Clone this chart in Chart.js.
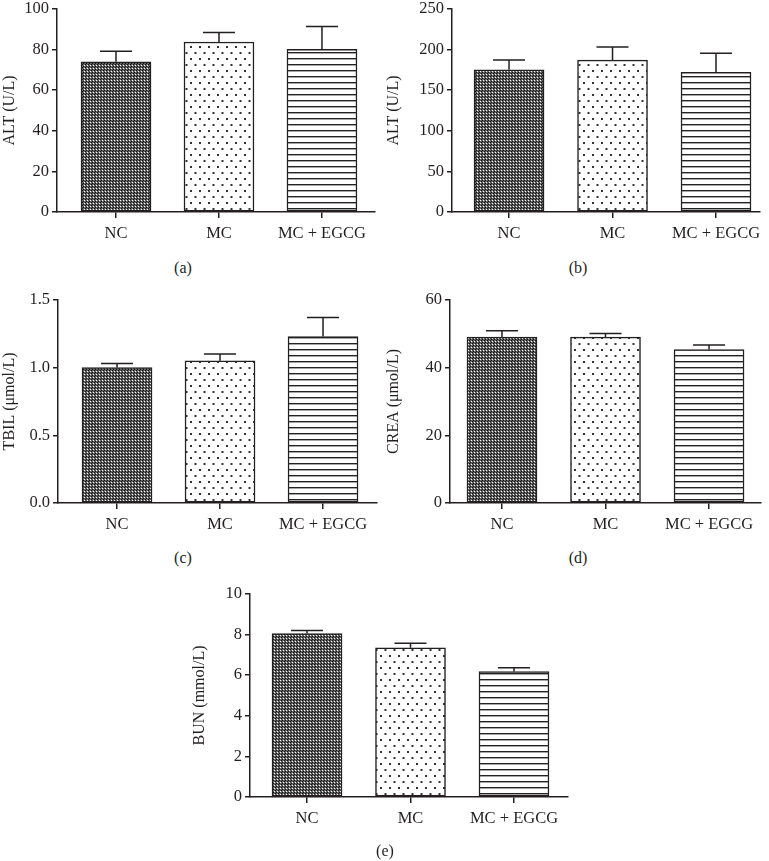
<!DOCTYPE html>
<html>
<head>
<meta charset="utf-8">
<script src="https://cdn.jsdelivr.net/npm/chart.js@4.4.0/dist/chart.umd.min.js"></script>
<style>
  body { margin: 0; background: #fff; width: 769px; height: 861px; position: relative; overflow: hidden;
         font-family: "Liberation Serif", serif; color: #231f20; }
  canvas { position: absolute; }
  .cap { position: absolute; font-size: 16px; transform: translate(-50%, -50%); white-space: nowrap; }
</style>
</head>
<body>
<canvas id="pa"></canvas>
<canvas id="pb"></canvas>
<canvas id="pc"></canvas>
<canvas id="pd"></canvas>
<canvas id="pe"></canvas>
<div class="cap" style="left:183px;top:268px">(a)</div>
<div class="cap" style="left:578px;top:268px">(b)</div>
<div class="cap" style="left:183px;top:558px">(c)</div>
<div class="cap" style="left:578px;top:558px">(d)</div>
<div class="cap" style="left:385px;top:851px">(e)</div>
<script>
// groups
const categories = ['NC', 'MC', 'MC + EGCG'];

// (a) ALT
const altA = [74.0, 83.7, 80.1];
const altAErr = [5.2, 4.7, 11.2];
// (b) ALT
const altB = [175, 187, 172];
const altBErr = [12, 16, 23.5];
// (c) TBIL
const tbil = [1.00, 1.05, 1.23];
const tbilErr = [0.03, 0.05, 0.14];
// (d) CREA
const crea = [49.0, 49.0, 45.3];
const creaErr = [1.9, 1.1, 1.4];
// (e) BUN
const bun = [8.05, 7.35, 6.18];
const bunErr = [0.15, 0.22, 0.18];

const INK = '#231f20';
const FONT = '"Liberation Serif", "Times New Roman", serif';

function makePattern(w, h, draw) {
    const c = document.createElement('canvas');
    c.width = w; c.height = h;
    const g = c.getContext('2d');
    draw(g);
    return g.createPattern(c, 'repeat');
}

// dense dark dither for NC
const ncFill = makePattern(3, 3, g => {
    g.fillStyle = '#626262'; g.fillRect(0, 0, 3, 3);
    g.fillStyle = '#ffffff'; g.fillRect(0, 0, 1, 1);
    g.fillStyle = '#111111'; g.fillRect(2, 1, 1, 1); g.fillRect(1, 2, 1, 1);
});
// sparse dots for MC
const mcFill = makePattern(9, 12, g => {
    g.fillStyle = '#fff'; g.fillRect(0, 0, 9, 12);
    g.fillStyle = '#333'; g.fillRect(1, 2, 2, 2); g.fillRect(5.5, 8, 2, 2);
});
// horizontal lines for MC + EGCG
const egFill = makePattern(6, 6, g => {
    g.fillStyle = '#fff'; g.fillRect(0, 0, 6, 6);
    g.fillStyle = '#222'; g.fillRect(0, 2, 6, 1.4);
});

const errorBars = {
    id: 'errorBars',
    afterDatasetsDraw(chart, args, opts) {
        const ctx = chart.ctx;
        const y = chart.scales.y;
        const meta = chart.getDatasetMeta(0);
        const vals = chart.data.datasets[0].data;
        ctx.save();
        ctx.strokeStyle = INK;
        ctx.lineWidth = 1.5;
        meta.data.forEach((bar, i) => {
            const top = y.getPixelForValue(vals[i].y + opts.err[i]);
            const base = y.getPixelForValue(vals[i].y);
            ctx.beginPath();
            ctx.moveTo(bar.x, base);
            ctx.lineTo(bar.x, top);
            ctx.moveTo(bar.x - 16, top);
            ctx.lineTo(bar.x + 16, top);
            ctx.stroke();
        });
        ctx.restore();
    }
};

function add_panel(id, box, area, xr, values, errors, yMax, yStep, yTitle, decimals) {
    const cv = document.getElementById(id);
    cv.width = box[2]; cv.height = box[3];
    cv.style.left = box[0] + 'px'; cv.style.top = box[1] + 'px';
    new Chart(cv, {
        type: 'bar',
        data: {
            datasets: [{
                data: values.map((v, i) => ({ x: i, y: v })),
                backgroundColor: [ncFill, mcFill, egFill],
                borderColor: INK,
                borderWidth: 1.5,
                borderSkipped: false,
                barThickness: 70
            }]
        },
        plugins: [errorBars],
        options: {
            responsive: false,
            animation: false,
            layout: {
                padding: { left: 0, bottom: 0, top: area[1] - box[1], right: box[0] + box[2] - area[2] }
            },
            plugins: {
                legend: { display: false },
                tooltip: { enabled: false },
                errorBars: { err: errors }
            },
            scales: {
                x: {
                    type: 'linear',
                    min: xr[0], max: xr[1],
                    offset: false,
                    afterFit: s => { s.height = box[1] + box[3] - area[3]; },
                    grid: { offset: false, drawOnChartArea: false, drawTicks: true, tickLength: 6, color: INK, lineWidth: 1.5 },
                    border: { display: true, color: INK, width: 1.5 },
                    ticks: {
                        stepSize: 1, includeBounds: false, autoSkip: false, maxRotation: 0,
                        padding: 6, color: INK, font: { family: FONT, size: 16.5 },
                        callback: v => categories[v] ?? ''
                    }
                },
                y: {
                    min: 0, max: yMax,
                    afterFit: s => { s.width = area[0] - box[0]; },
                    grid: { drawOnChartArea: false, drawTicks: true, tickLength: 5, color: INK, lineWidth: 1.5 },
                    border: { display: true, color: INK, width: 1.5 },
                    ticks: {
                        stepSize: yStep, padding: 3, color: INK, font: { family: FONT, size: 16.5 },
                        callback: v => v.toFixed(decimals)
                    },
                    title: { display: true, text: yTitle, color: INK, padding: 0, font: { family: FONT, size: 16 } }
                }
            }
        }
    });
}

add_panel('pa', [0, -4, 384, 262], [57, 6, 375, 212], [-0.573, 2.515], altA, altAErr, 100, 20, 'ALT (U/L)', 0);
add_panel('pb', [384, -4, 385, 262], [452, 6, 760, 212], [-0.551, 2.425], altB, altBErr, 250, 50, 'ALT (U/L)', 0);
add_panel('pc', [0, 287, 384, 262], [58, 297, 377, 503], [-0.573, 2.524], tbil, tbilErr, 1.5, 0.5, 'TBIL (μmol/L)', 1);
add_panel('pd', [384, 287, 385, 262], [450, 297, 761, 503], [-0.502, 2.502], crea, creaErr, 60, 20, 'CREA (μmol/L)', 0);
add_panel('pe', [190, 581, 400, 262], [250, 591, 568, 797], [-0.551, 2.522], bun, bunErr, 10, 2, 'BUN (mmol/L)', 0);
</script>
</body>
</html>
